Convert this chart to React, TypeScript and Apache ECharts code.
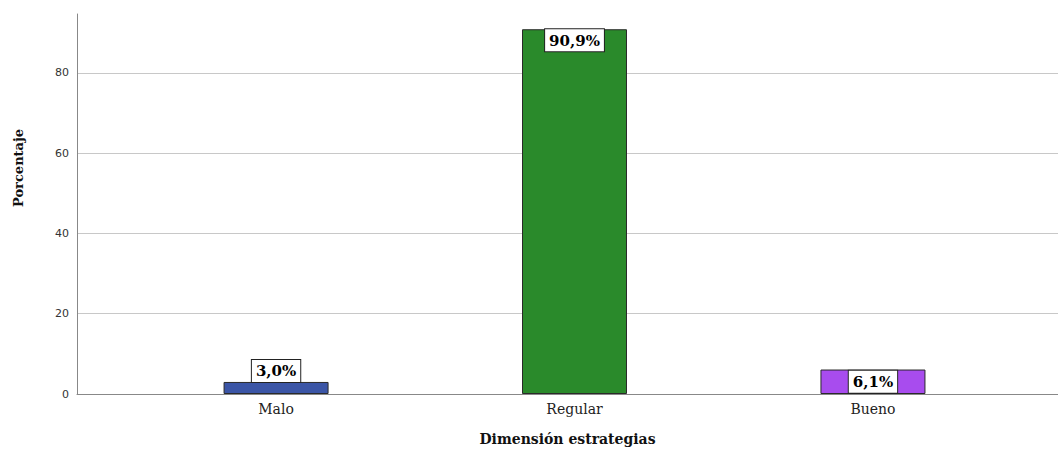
import React, { useEffect, useRef } from "react";
import * as echarts from "echarts";

// Percentage of responses per level of the "estrategias" dimension
const categories = ["Malo", "Regular", "Bueno"];
const percentages = [3.0, 90.9, 6.1];
const barColors = ["#3b55a6", "#2a8a2b", "#a84cee"];
const labelPositions = ["top", "insideTop", "inside"];
const yTicks = [0, 20, 40, 60, 80];

const serif = "'DejaVu Serif', 'Liberation Serif', serif";
const sans = "'DejaVu Sans', 'Liberation Sans', sans-serif";

const fmtPct = (v: number) => v.toFixed(1).replace(".", ",") + "%";

export default function App() {
  const ref = useRef<HTMLDivElement>(null);

  useEffect(() => {
    if (!ref.current) return;
    const chart = echarts.init(ref.current, null, { renderer: "svg" });

    chart.setOption({
      animation: false,
      backgroundColor: "#ffffff",
      grid: { left: 77, right: 0, top: 14, bottom: 56, outerBoundsMode: "none", containLabel: false },
      xAxis: {
        type: "value",
        min: -0.667,
        max: 2.62,
        name: "Dimensión estrategias",
        nameLocation: "middle",
        nameGap: 38,
        nameTextStyle: { fontFamily: serif, fontWeight: "bold", fontSize: 14, color: "#111" },
        axisLine: { show: true, onZero: false, lineStyle: { color: "#888", width: 1 } },
        axisTick: { show: false },
        splitLine: { show: false },
        axisLabel: {
          customValues: categories.map((_, i) => i),
          formatter: (v: number) => categories[Math.round(v)] ?? "",
          fontFamily: serif,
          fontSize: 14,
          color: "#222",
          margin: 8,
        },
      },
      yAxis: {
        type: "value",
        min: 0,
        max: 94.7,
        interval: 20,
        axisLine: { show: true, onZero: false, lineStyle: { color: "#888", width: 1 } },
        axisTick: { show: false },
        splitLine: { show: true, showMinLine: false, showMaxLine: false, lineStyle: { color: "#c8c8c8", width: 1 } },
        axisLabel: {
          showMaxLabel: false,
          formatter: (v: number) => (yTicks.includes(v) ? String(v) : ""),
          fontFamily: sans,
          fontSize: 11,
          color: "#333",
          margin: 8,
        },
      },
      graphic: [
        {
          type: "text",
          x: 18,
          y: 168,
          rotation: Math.PI / 2,
          style: {
            text: "Porcentaje",
            fontFamily: serif,
            fontWeight: "bold",
            fontSize: 13,
            fill: "#111",
            align: "center",
            verticalAlign: "middle",
          },
        },
      ],
      series: [
        {
          type: "bar",
          barWidth: 105,
          data: percentages.map((v, i) => ({
            value: [i, v],
            itemStyle: { color: barColors[i], borderColor: "#2a2a2a", borderWidth: 1 },
            label: {
              show: true,
              position: labelPositions[i],
              distance: 0,
              formatter: () => fmtPct(v),
              fontFamily: serif,
              fontWeight: "bold",
              fontSize: 15,
              color: "#000",
              backgroundColor: "#ffffff",
              borderColor: "#222",
              borderWidth: 1,
              padding: [4, 4, 3, 4],
            },
          })),
        },
      ],
    });

    return () => chart.dispose();
  }, []);

  return (
    <div
      ref={ref}
      style={{ position: "absolute", left: 0, top: 0, width: 1058, height: 450 }}
    />
  );
}
